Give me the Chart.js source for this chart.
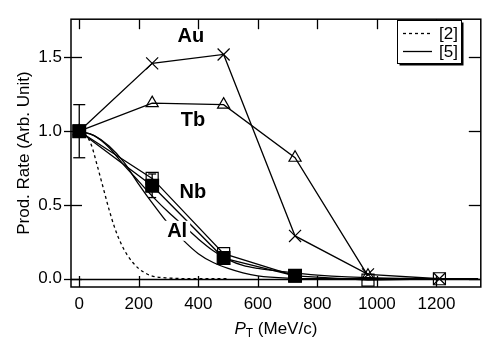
<!DOCTYPE html>
<html>
<head>
<meta charset="utf-8">
<script src="https://cdn.jsdelivr.net/npm/chart.js@4/dist/chart.umd.min.js"></script>
<style>
  html, body { margin: 0; padding: 0; background: #fff; }
  #c { display: block; }
</style>
</head>
<body>
<canvas id="c" width="491" height="338"></canvas>
<script>
// measured points (P_T in MeV/c)
const pt = [0, 245, 485, 725, 970, 1210];
const au = [1.0, 1.46, 1.52, 0.29, 0.03, 0.0];
const tb = [1.0, 1.19, 1.18, 0.82, 0.02];
const nb = [1.0, 0.68, 0.17, 0.02, -0.01, 0.0];
const al = [1.0, 0.63, 0.14, 0.02];
const alErr = [0.18, 0.08, 0, 0];

// calculations
const calc2Pt = [0, 20, 40, 60, 80, 100, 120, 140, 160, 180, 200, 240, 300, 400, 500];
const calc2 = [1.0, 0.98, 0.91, 0.77, 0.62, 0.47, 0.34, 0.24, 0.165, 0.11, 0.068, 0.022, 0.005, 0.0, 0.0];
const calc5Pt = [0, 50, 100, 150, 200, 250, 300, 350, 400, 450, 500, 550, 600, 700, 800, 900, 1000, 1100, 1200, 1340];
const calc5Nb = [1.0, 0.97, 0.89, 0.77, 0.66, 0.55, 0.45, 0.36, 0.27, 0.19, 0.13, 0.09, 0.07, 0.045, 0.025, 0.012, 0.005, 0.002, 0.0, 0.0];
const calc5Al = [1.0, 0.97, 0.90, 0.79, 0.64, 0.50, 0.37, 0.26, 0.17, 0.11, 0.07, 0.04, 0.02, 0.004, 0.0, 0.0, 0.0, 0.0, 0.0, 0.0];

const xTicks = [0, 200, 400, 600, 800, 1000, 1200];
const yTicks = [0.0, 0.5, 1.0, 1.5];

const tags = ['Au', 'Tb', 'Nb', 'Al'];
const tagPt = [375, 382, 382, 329];
const tagY = [1.646, 1.081, 0.591, 0.325];

const FONT = "'Liberation Sans', Arial, Helvetica, sans-serif";

function pts(xs, ys) {
  return ys.map((v, i) => ({ x: xs[i], y: v }));
}

function line(ctx, x1, y1, x2, y2) {
  ctx.beginPath();
  ctx.moveTo(x1, y1);
  ctx.lineTo(x2, y2);
  ctx.stroke();
}

const decor = {
  id: 'decor',
  beforeDatasetsDraw(chart) {
    const { ctx, chartArea: a, scales: { y } } = chart;
    ctx.save();
    ctx.strokeStyle = '#000';
    ctx.lineWidth = 1.5;
    const y0 = Math.round(y.getPixelForValue(0)) + 0.5;
    line(ctx, a.left, y0, a.right, y0);
    ctx.restore();
  },
  afterDatasetsDraw(chart) {
    const { ctx, scales: { x, y } } = chart;
    ctx.save();
    ctx.strokeStyle = '#000';
    ctx.lineWidth = 1.3;
    // error bars on filled squares
    al.forEach((v, i) => {
      if (!alErr[i]) return;
      const px = x.getPixelForValue(pt[i]);
      const hi = y.getPixelForValue(v + alErr[i]);
      const lo = y.getPixelForValue(v - alErr[i]);
      const cap = i === 0 ? 6 : 4;
      line(ctx, px, hi, px, lo);
      line(ctx, px - cap, hi, px + cap, hi);
      line(ctx, px - cap, lo, px + cap, lo);
    });
    // element labels
    ctx.font = 'bold 20px ' + FONT;
    ctx.textAlign = 'center';
    ctx.textBaseline = 'middle';
    tags.forEach((t, i) => {
      const px = x.getPixelForValue(tagPt[i]);
      const py = y.getPixelForValue(tagY[i]);
      if (t === 'Al') {
        ctx.fillStyle = '#fff';
        ctx.fillRect(px - 13, py - 10, 26, 20);
      }
      ctx.fillStyle = '#000';
      ctx.fillText(t, px, py + 1);
    });
    ctx.restore();
  },
  afterDraw(chart) {
    const { ctx, chartArea: a, scales: { x, y } } = chart;
    ctx.save();
    ctx.strokeStyle = '#000';
    ctx.lineWidth = 1.5;
    ctx.strokeRect(a.left, a.top, a.right - a.left, a.bottom - a.top);
    ctx.lineWidth = 1.3;
    xTicks.forEach(v => {
      const px = Math.round(x.getPixelForValue(v)) + 0.5;
      line(ctx, px, a.bottom, px, a.bottom - 11);
      line(ctx, px, a.top, px, a.top + 10);
    });
    yTicks.forEach(v => {
      const py = Math.round(y.getPixelForValue(v)) + 0.5;
      line(ctx, a.left - 7, py, a.left + 11, py);
      line(ctx, a.right, py, a.right - 12, py);
    });

    // legend
    const lx = 397, ly = 20, lw = 64, lh = 43;
    ctx.fillStyle = '#000';
    ctx.fillRect(lx + 2.5, ly + 2.5, lw, lh);
    ctx.fillStyle = '#fff';
    ctx.fillRect(lx, ly, lw, lh);
    ctx.lineWidth = 1;
    ctx.strokeRect(lx + 0.5, ly + 0.5, lw, lh);
    ctx.lineWidth = 1.3;
    ctx.setLineDash([3, 3]);
    line(ctx, lx + 6, ly + 13.5, lx + 35, ly + 13.5);
    ctx.setLineDash([]);
    line(ctx, lx + 6, ly + 31.5, lx + 35, ly + 31.5);
    ctx.fillStyle = '#000';
    ctx.font = '17px ' + FONT;
    ctx.textAlign = 'left';
    ctx.textBaseline = 'middle';
    ctx.fillText('[2]', lx + 42, ly + 14);
    ctx.fillText('[5]', lx + 42, ly + 32);

    // x title: P_T (MeV/c)
    const cx = (a.left + a.right) / 2;
    const base = 334;
    const fP = 'italic 17px ' + FONT, fT = '12px ' + FONT, fR = '17px ' + FONT;
    ctx.font = fP; const wP = ctx.measureText('P').width;
    ctx.font = fT; const wT = ctx.measureText('T').width;
    ctx.font = fR; const rest = ' (MeV/c)'; const wR = ctx.measureText(rest).width;
    let sx = cx - (wP + wT + wR) / 2;
    ctx.textBaseline = 'alphabetic';
    ctx.font = fP; ctx.fillText('P', sx, base); sx += wP;
    ctx.font = fT; ctx.fillText('T', sx, base + 3); sx += wT;
    ctx.font = fR; ctx.fillText(rest, sx, base);
    ctx.restore();
  }
};

const blackLine = { borderColor: '#000', borderWidth: 1.3, pointBorderColor: '#000', pointBorderWidth: 1.2 };

new Chart(document.getElementById('c'), {
  type: 'line',
  data: {
    datasets: [
      Object.assign({ label: 'Al', data: pts(pt, al), pointStyle: 'rect', pointRadius: 9,
        pointBackgroundColor: '#000', tension: 0 }, blackLine),
      Object.assign({ label: 'Nb', data: pts(pt, nb), pointStyle: 'rect', pointRadius: 8.5,
        pointBackgroundColor: 'rgba(0,0,0,0)', tension: 0 }, blackLine),
      Object.assign({ label: 'Tb', data: pts(pt, tb), pointStyle: 'triangle', pointRadius: 7,
        pointBackgroundColor: 'rgba(0,0,0,0)', tension: 0 }, blackLine),
      Object.assign({ label: 'Au', data: pts(pt, au), pointStyle: 'crossRot', pointRadius: 8.5,
        pointBackgroundColor: 'rgba(0,0,0,0)', tension: 0 }, blackLine),
      { label: '[2]', data: pts(calc2Pt, calc2), borderColor: '#000', borderWidth: 1.3,
        borderDash: [3, 3], pointRadius: 0, cubicInterpolationMode: 'monotone' },
      { label: '[5] Nb', data: pts(calc5Pt, calc5Nb), borderColor: '#000', borderWidth: 1.3,
        pointRadius: 0, cubicInterpolationMode: 'monotone' },
      { label: '[5] Al', data: pts(calc5Pt, calc5Al), borderColor: '#000', borderWidth: 1.3,
        pointRadius: 0, cubicInterpolationMode: 'monotone' }
    ]
  },
  options: {
    responsive: false,
    animation: false,
    devicePixelRatio: 1,
    clip: false,
    layout: { padding: { top: 6, right: 7, left: 0, bottom: 0 } },
    plugins: { legend: { display: false }, tooltip: { enabled: false } },
    font: { family: FONT },
    scales: {
      x: {
        type: 'linear',
        min: -27.7,
        max: 1349,
        afterFit(s) { s.height = 51; },
        afterBuildTicks(s) { s.ticks = xTicks.map(v => ({ value: v })); },
        grid: { drawOnChartArea: false, drawTicks: false },
        border: { display: false },
        ticks: { padding: 7, maxRotation: 0, autoSkip: false, color: '#000',
          font: { size: 17, family: FONT }, callback: v => String(v) }
      },
      y: {
        min: -0.056,
        max: 1.759,
        afterFit(s) { s.width = 71; },
        afterBuildTicks(s) { s.ticks = yTicks.map(v => ({ value: v })); },
        grid: { drawOnChartArea: false, drawTicks: false },
        border: { display: false },
        ticks: { padding: 9, autoSkip: false, color: '#000',
          font: { size: 17, family: FONT }, callback: v => v.toFixed(1) },
        title: { display: true, text: 'Prod. Rate (Arb. Unit)', color: '#000',
          font: { size: 17, family: FONT }, padding: { top: 14, bottom: 0 } }
      }
    }
  },
  plugins: [decor]
});
</script>
</body>
</html>
